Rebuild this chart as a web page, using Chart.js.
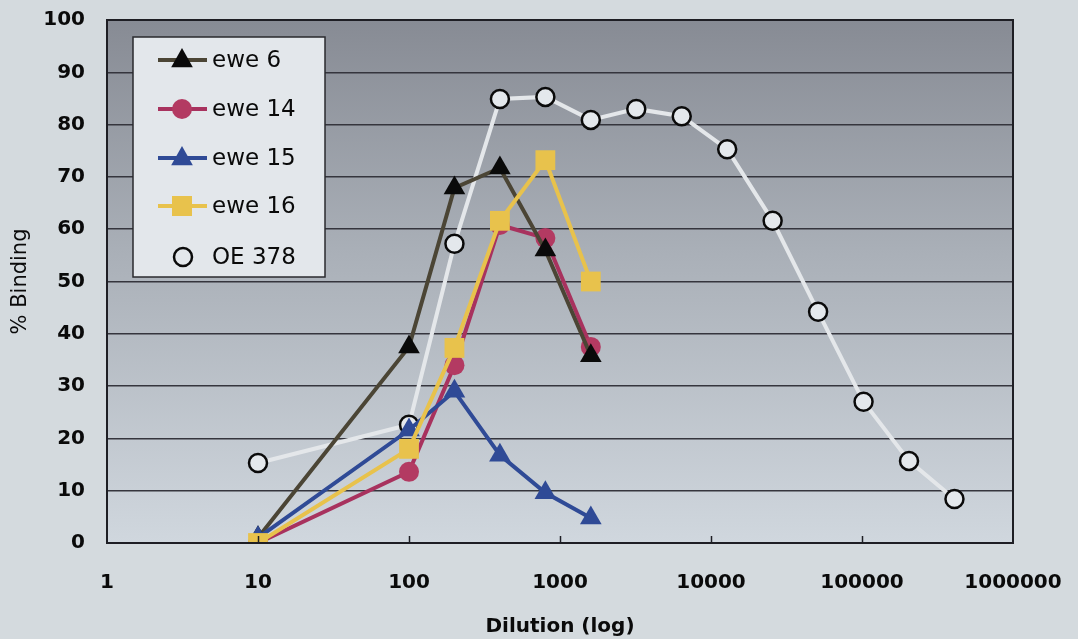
<!DOCTYPE html>
<html>
<head>
<meta charset="utf-8">
<script src="https://cdn.jsdelivr.net/npm/chart.js@4.4.1/dist/chart.umd.min.js"></script>
<style>
html,body{margin:0;padding:0;background:#d4dade;}
#wrap{position:relative;width:1078px;height:639px;}
</style>
</head>
<body>
<div id="wrap"><canvas id="c" width="1078" height="639"></canvas></div>
<script>
const xTicks = [1, 10, 100, 1000, 10000, 100000, 1000000];
const yTicks = [0, 10, 20, 30, 40, 50, 60, 70, 80, 90, 100];
const eweDilutions = [10, 100, 200, 400, 800, 1600];
const oeDilutions = [10, 100, 200, 400, 800, 1600, 3200, 6400, 12800, 25600, 51200, 102400, 204800, 409600];
const ewe6 = [1, 37.5, 67.9, 71.7, 56, 35.8];
const ewe14 = [0, 13.6, 34, 60.8, 58.3, 37.5];
const ewe15 = [1, 21.6, 29, 16.8, 9.6, 4.8];
const ewe16 = [0, 18, 37.3, 61.6, 73.2, 50];
const oe378 = [15.3, 22.6, 57.2, 84.9, 85.3, 80.9, 83, 81.6, 75.3, 61.6, 44.2, 27, 15.7, 8.4];
const seriesNames = ['ewe 6', 'ewe 14', 'ewe 15', 'ewe 16', 'OE 378'];

const FONT = '"DejaVu Sans", "Liberation Sans", Arial, sans-serif';

function pts(xs, ys){ return xs.map((x,i)=>({x:x, y:ys[i]})); }

const styles = [
  {line:'#4b4535', fill:'#0a0a0a', border:'#0a0a0a', shape:'triangle', r:12.5, bw:0, w:4},
  {line:'#a8325e', fill:'#b33a62', border:'#b33a62', shape:'circle', r:10, bw:0, w:4},
  {line:'#2f4a96', fill:'#2f4a96', border:'#2f4a96', shape:'triangle', r:12.5, bw:0, w:4},
  {line:'#e8c24c', fill:'#e8c24c', border:'#e8c24c', shape:'rect', r:14, bw:0, w:4},
  {line:'#e4e7ea', fill:'#e4e8ec', border:'#0a0a0a', shape:'circle', r:9, bw:2.5, w:4}
];
const dataArr = [pts(eweDilutions, ewe6), pts(eweDilutions, ewe14), pts(eweDilutions, ewe15), pts(eweDilutions, ewe16), pts(oeDilutions, oe378)];
const orders = [2, 3, 1, 0, 4];

const datasets = seriesNames.map((n,i)=>({
  label:n, data:dataArr[i], borderColor:styles[i].line, borderWidth:styles[i].w,
  pointStyle:styles[i].shape, pointRadius:styles[i].r, pointBackgroundColor:styles[i].fill,
  pointBorderColor:styles[i].border, pointBorderWidth:styles[i].bw, tension:0, order:orders[i],
  showLine:true, fill:false
}));

const bgPlugin = {
  id:'bg',
  beforeDraw(chart){
    const {ctx, chartArea:a} = chart;
    const g = ctx.createLinearGradient(0, a.top, 0, a.bottom);
    g.addColorStop(0, '#878b94');
    g.addColorStop(0.45, '#aab0b8');
    g.addColorStop(1, '#d0d7de');
    ctx.save();
    ctx.fillStyle = g;
    ctx.fillRect(a.left, a.top, a.right-a.left, a.bottom-a.top);
    ctx.restore();
  },
  afterDatasetsDraw(chart){
    const {ctx, chartArea:a} = chart;
    ctx.save();
    ctx.strokeStyle = '#1e1e24';
    ctx.lineWidth = 2;
    ctx.strokeRect(a.left, a.top, a.right-a.left, a.bottom-a.top);
    const xs = chart.scales.x;
    ctx.lineWidth = 1.5;
    xTicks.slice(1, -1).forEach(v=>{
      const px = Math.round(xs.getPixelForValue(v))+0.5;
      ctx.beginPath(); ctx.moveTo(px, a.bottom); ctx.lineTo(px, a.bottom-7); ctx.stroke();
    });
    // legend
    const lx = 133, ly = 37, lw = 192, lh = 240;
    ctx.fillStyle = '#e3e7eb';
    ctx.fillRect(lx, ly, lw, lh);
    ctx.strokeStyle = '#2a2a2e'; ctx.lineWidth = 1.5;
    ctx.strokeRect(lx, ly, lw, lh);
    const rowsY = [60, 109, 158, 206, 257];
    ctx.font = '23px ' + FONT;
    ctx.textBaseline = 'middle';
    seriesNames.forEach((n,i)=>{
      const s = styles[i], y = rowsY[i], cx = 182;
      if (i < 4) {
        ctx.strokeStyle = s.line; ctx.lineWidth = 4;
        ctx.beginPath(); ctx.moveTo(158, y); ctx.lineTo(207, y); ctx.stroke();
      }
      ctx.fillStyle = s.fill;
      if (s.shape === 'triangle') {
        const r = 12;
        ctx.beginPath(); ctx.moveTo(cx, y-r); ctx.lineTo(cx+r*0.9, y+r*0.6); ctx.lineTo(cx-r*0.9, y+r*0.6); ctx.closePath(); ctx.fill();
      } else if (s.shape === 'rect') {
        ctx.fillRect(cx-10, y-10, 20, 20);
      } else {
        ctx.beginPath(); ctx.arc(i===4?183:cx, y, s.r, 0, Math.PI*2); ctx.fill();
        if (s.bw) { ctx.strokeStyle = s.border; ctx.lineWidth = s.bw; ctx.stroke(); }
      }
      ctx.fillStyle = '#0a0a0a';
      ctx.textAlign = 'left';
      ctx.fillText(n, 212, y+1);
    });
    ctx.restore();
  }
};

new Chart(document.getElementById('c'), {
  type:'line',
  data:{datasets},
  plugins:[bgPlugin],
  options:{
    responsive:false, animation:false,
    layout:{padding:{top:20, right:65, left:0, bottom:0}},
    plugins:{legend:{display:false}, tooltip:{enabled:false}},
    scales:{
      x:{
        type:'logarithmic', min:1, max:1000000,
        afterBuildTicks(scale){ scale.ticks = xTicks.map(v=>({value:v})); },
        afterFit(scale){ scale.height = 96; scale.paddingLeft = 0; scale.paddingRight = 0; },
        grid:{display:false, drawTicks:false},
        border:{display:false},
        ticks:{color:'#0a0a0a', font:{family:FONT, size:20, weight:'bold'}, padding:28, maxRotation:0, autoSkip:false,
          callback:(v)=> String(v)},
        title:{display:true, text:'Dilution (log)', color:'#0a0a0a', font:{family:FONT, size:20, weight:'bold'}, padding:{top:10, bottom:0}}
      },
      y:{
        min:0, max:100,
        afterBuildTicks(scale){ scale.ticks = yTicks.map(v=>({value:v})); },
        afterFit(scale){ scale.width = 107; scale.paddingTop = 0; scale.paddingBottom = 0; },
        grid:{color:'#35353d', lineWidth:1.5, drawTicks:false},
        border:{display:false},
        ticks:{color:'#0a0a0a', font:{family:FONT, size:20, weight:'bold'}, padding:22},
        title:{display:true, text:'% Binding', color:'#0a0a0a', font:{family:FONT, size:21, weight:'normal'}, padding:{top:8,bottom:0}}
      }
    }
  }
});
</script>
</body>
</html>
